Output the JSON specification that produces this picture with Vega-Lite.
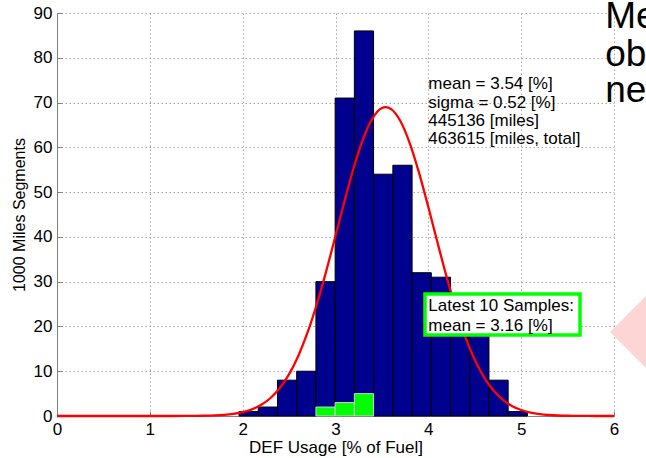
{
  "$schema": "https://vega.github.io/schema/vega-lite/v6.json",
  "width": 557,
  "height": 403,
  "autosize": {"type": "none"},
  "padding": {"left": 57, "top": 13, "right": 32, "bottom": 42},
  "background": "white",
  "config": {
    "view": {"stroke": null},
    "font": "Liberation Sans",
    "axis": {
      "grid": true,
      "gridColor": "#a8a8a8",
      "gridDash": [1.5, 2.5],
      "gridWidth": 1,
      "domainColor": "#808080",
      "tickColor": "#808080",
      "tickSize": -5,
      "labelFont": "Liberation Sans",
      "labelFontSize": 17,
      "labelColor": "#000000",
      "labelFlush": false,
      "labelOverlap": false,
      "format": "d",
      "titleFont": "Liberation Sans",
      "titleFontWeight": "normal",
      "titleColor": "#000000"
    },
    "axisX": {"labelPadding": 10, "titlePadding": 2, "titleFontSize": 17},
    "axisY": {"labelPadding": 10, "titlePadding": 6, "titleFontSize": 16}
  },
  "datasets": {
    "segments": [
      {"bin_start": 1.961, "bin_end": 2.168, "segments": 1},
      {"bin_start": 2.168, "bin_end": 2.375, "segments": 2},
      {"bin_start": 2.375, "bin_end": 2.582, "segments": 8},
      {"bin_start": 2.582, "bin_end": 2.789, "segments": 10},
      {"bin_start": 2.789, "bin_end": 2.996, "segments": 30},
      {"bin_start": 2.996, "bin_end": 3.203, "segments": 71},
      {"bin_start": 3.203, "bin_end": 3.410, "segments": 86},
      {"bin_start": 3.410, "bin_end": 3.618, "segments": 54},
      {"bin_start": 3.618, "bin_end": 3.825, "segments": 56},
      {"bin_start": 3.825, "bin_end": 4.032, "segments": 32},
      {"bin_start": 4.032, "bin_end": 4.239, "segments": 31},
      {"bin_start": 4.239, "bin_end": 4.446, "segments": 27},
      {"bin_start": 4.446, "bin_end": 4.653, "segments": 22},
      {"bin_start": 4.653, "bin_end": 4.860, "segments": 8},
      {"bin_start": 4.860, "bin_end": 5.067, "segments": 1}
    ],
    "latest": [
      {"bin_start": 2.789, "bin_end": 2.996, "samples": 2},
      {"bin_start": 2.996, "bin_end": 3.203, "samples": 3},
      {"bin_start": 3.203, "bin_end": 3.410, "samples": 5}
    ],
    "fit": [
      {"usage": 0.0, "density": 0},
      {"usage": 0.5, "density": 0},
      {"usage": 1.0, "density": 0},
      {"usage": 1.2, "density": 0.003},
      {"usage": 1.4, "density": 0.015},
      {"usage": 1.5, "density": 0.031},
      {"usage": 1.6, "density": 0.066},
      {"usage": 1.7, "density": 0.132},
      {"usage": 1.8, "density": 0.256},
      {"usage": 1.9, "density": 0.477},
      {"usage": 2.0, "density": 0.86},
      {"usage": 2.1, "density": 1.49},
      {"usage": 2.2, "density": 2.49},
      {"usage": 2.3, "density": 4.02},
      {"usage": 2.4, "density": 6.24},
      {"usage": 2.5, "density": 9.34},
      {"usage": 2.6, "density": 13.47},
      {"usage": 2.7, "density": 18.71},
      {"usage": 2.8, "density": 25.07},
      {"usage": 2.9, "density": 32.35},
      {"usage": 3.0, "density": 40.24},
      {"usage": 3.1, "density": 48.24},
      {"usage": 3.2, "density": 55.72},
      {"usage": 3.3, "density": 62.03},
      {"usage": 3.4, "density": 66.54},
      {"usage": 3.5, "density": 68.8},
      {"usage": 3.54, "density": 69.0},
      {"usage": 3.6, "density": 68.54},
      {"usage": 3.7, "density": 65.81},
      {"usage": 3.8, "density": 60.89},
      {"usage": 3.9, "density": 54.3},
      {"usage": 4.0, "density": 46.66},
      {"usage": 4.1, "density": 38.63},
      {"usage": 4.2, "density": 30.84},
      {"usage": 4.3, "density": 23.72},
      {"usage": 4.4, "density": 17.58},
      {"usage": 4.5, "density": 12.55},
      {"usage": 4.6, "density": 8.64},
      {"usage": 4.7, "density": 5.73},
      {"usage": 4.8, "density": 3.66},
      {"usage": 4.9, "density": 2.26},
      {"usage": 5.0, "density": 1.34},
      {"usage": 5.1, "density": 0.77},
      {"usage": 5.2, "density": 0.42},
      {"usage": 5.3, "density": 0.22},
      {"usage": 5.4, "density": 0.115},
      {"usage": 5.5, "density": 0.057},
      {"usage": 5.6, "density": 0.027},
      {"usage": 5.8, "density": 0.005},
      {"usage": 6.0, "density": 0}
    ]
  },
  "layer": [
    {
      "data": {"name": "segments"},
      "mark": {"type": "bar", "fill": "#00008f", "stroke": "#000000", "strokeWidth": 1},
      "encoding": {
        "x": {
          "field": "bin_start",
          "type": "quantitative",
          "title": "DEF Usage [% of Fuel]",
          "scale": {"domain": [0, 6], "nice": false, "zero": false},
          "axis": {"values": [0, 1, 2, 3, 4, 5, 6]}
        },
        "x2": {"field": "bin_end"},
        "y": {
          "field": "segments",
          "type": "quantitative",
          "title": "1000 Miles Segments",
          "scale": {"domain": [0, 90], "nice": false},
          "axis": {"values": [0, 10, 20, 30, 40, 50, 60, 70, 80, 90]}
        },
        "y2": {"datum": 0}
      }
    },
    {
      "data": {"values": [{}]},
      "mark": {"type": "point", "shape": "diamond", "filled": true, "size": 14400, "color": "#fdd5d5", "opacity": 1},
      "encoding": {
        "x": {"datum": 6.603, "type": "quantitative", "title": "DEF Usage [% of Fuel]"},
        "y": {"datum": 18.76, "type": "quantitative", "title": "1000 Miles Segments"}
      }
    },
    {
      "data": {"name": "latest"},
      "mark": {"type": "bar", "fill": "#00ff00", "stroke": "#d0d0d0", "strokeWidth": 1},
      "encoding": {
        "x": {"field": "bin_start", "type": "quantitative", "title": "DEF Usage [% of Fuel]"},
        "x2": {"field": "bin_end"},
        "y": {"field": "samples", "type": "quantitative", "title": "1000 Miles Segments"},
        "y2": {"datum": 0}
      }
    },
    {
      "data": {"name": "fit"},
      "mark": {"type": "line", "color": "#ff0000", "strokeWidth": 2.3, "interpolate": "monotone"},
      "encoding": {
        "x": {"field": "usage", "type": "quantitative", "title": "DEF Usage [% of Fuel]"},
        "y": {"field": "density", "type": "quantitative", "title": "1000 Miles Segments"}
      }
    },
    {
      "data": {"values": [{}]},
      "mark": {
        "type": "text",
        "text": ["mean = 3.54 [%]", "sigma = 0.52 [%]", "445136 [miles]", "463615 [miles, total]"],
        "align": "left",
        "baseline": "alphabetic",
        "font": "Liberation Sans",
        "fontSize": 17,
        "lineHeight": 18.3,
        "color": "#000000"
      },
      "encoding": {
        "x": {"datum": 4.0, "type": "quantitative", "title": "DEF Usage [% of Fuel]"},
        "y": {"datum": 72.96, "type": "quantitative", "title": "1000 Miles Segments"}
      }
    },
    {
      "data": {"values": [{}]},
      "mark": {"type": "rect", "fill": "#ffffff", "stroke": "#00ff00", "strokeWidth": 3.5},
      "encoding": {
        "x": {"datum": 3.964, "type": "quantitative", "title": "DEF Usage [% of Fuel]"},
        "x2": {"datum": 5.634},
        "y": {"datum": 27.24, "type": "quantitative", "title": "1000 Miles Segments"},
        "y2": {"datum": 18.09}
      }
    },
    {
      "data": {"values": [{}]},
      "mark": {
        "type": "text",
        "text": ["Latest 10 Samples:", "mean = 3.16 [%]"],
        "align": "left",
        "baseline": "alphabetic",
        "font": "Liberation Sans",
        "fontSize": 17,
        "lineHeight": 19.7,
        "color": "#000000"
      },
      "encoding": {
        "x": {"datum": 4.0, "type": "quantitative", "title": "DEF Usage [% of Fuel]"},
        "y": {"datum": 23.45, "type": "quantitative", "title": "1000 Miles Segments"}
      }
    },
    {
      "data": {"values": [{}]},
      "mark": {"type": "text", "text": "Me", "align": "left", "baseline": "alphabetic", "font": "Liberation Sans", "fontSize": 37, "color": "#000000"},
      "encoding": {
        "x": {"datum": 5.905, "type": "quantitative", "title": "DEF Usage [% of Fuel]"},
        "y": {"datum": 86.6, "type": "quantitative", "title": "1000 Miles Segments"}
      }
    },
    {
      "data": {"values": [{}]},
      "mark": {"type": "text", "text": "ob", "align": "left", "baseline": "alphabetic", "font": "Liberation Sans", "fontSize": 37, "color": "#000000"},
      "encoding": {
        "x": {"datum": 5.905, "type": "quantitative", "title": "DEF Usage [% of Fuel]"},
        "y": {"datum": 78.2, "type": "quantitative", "title": "1000 Miles Segments"}
      }
    },
    {
      "data": {"values": [{}]},
      "mark": {"type": "text", "text": "ne", "align": "left", "baseline": "alphabetic", "font": "Liberation Sans", "fontSize": 37, "color": "#000000"},
      "encoding": {
        "x": {"datum": 5.905, "type": "quantitative", "title": "DEF Usage [% of Fuel]"},
        "y": {"datum": 70.1, "type": "quantitative", "title": "1000 Miles Segments"}
      }
    }
  ]
}
